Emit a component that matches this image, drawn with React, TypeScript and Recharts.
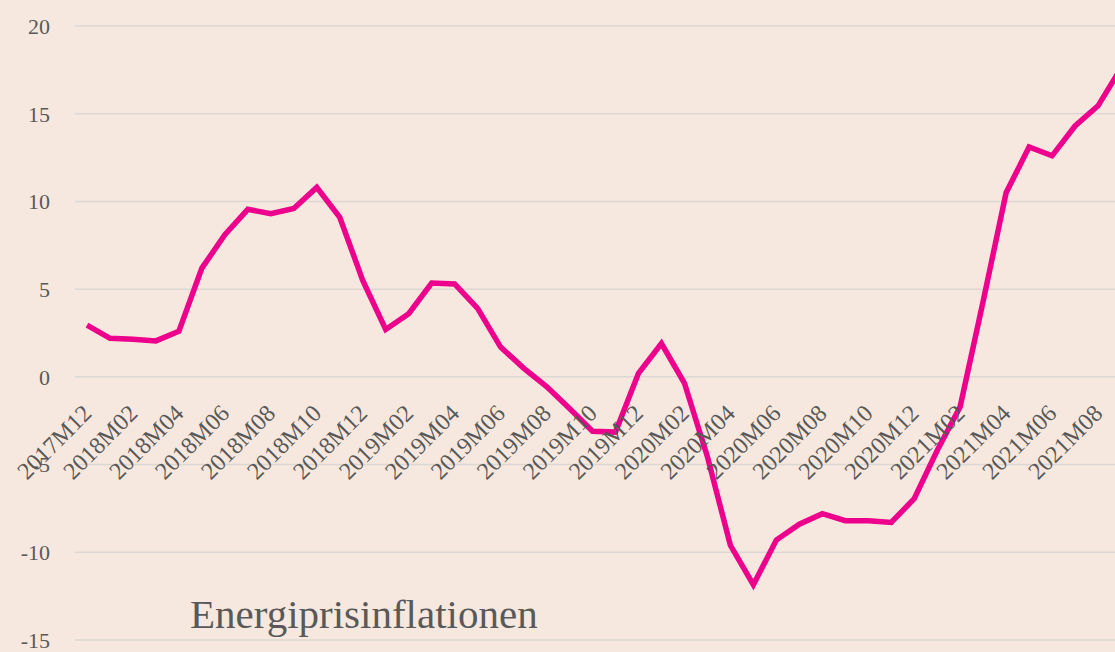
import { LineChart, Line, XAxis, YAxis, CartesianGrid } from 'recharts'

const months = [
  '2017M12',
  '2018M01', '2018M02', '2018M03', '2018M04', '2018M05', '2018M06',
  '2018M07', '2018M08', '2018M09', '2018M10', '2018M11', '2018M12',
  '2019M01', '2019M02', '2019M03', '2019M04', '2019M05', '2019M06',
  '2019M07', '2019M08', '2019M09', '2019M10', '2019M11', '2019M12',
  '2020M01', '2020M02', '2020M03', '2020M04', '2020M05', '2020M06',
  '2020M07', '2020M08', '2020M09', '2020M10', '2020M11', '2020M12',
  '2021M01', '2021M02', '2021M03', '2021M04', '2021M05', '2021M06',
  '2021M07', '2021M08', '2021M09',
]

// energiprisinflation, procent
const energyInflation = [
  2.95,
  2.2, 2.15, 2.05, 2.6, 6.2, 8.1,
  9.55, 9.3, 9.6, 10.8, 9.1, 5.5,
  2.7, 3.6, 5.35, 5.3, 3.9, 1.7,
  0.5, -0.55, -1.8, -3.1, -3.15, 0.2,
  1.9, -0.35, -4.55, -9.6, -11.85, -9.3,
  -8.4, -7.8, -8.2, -8.2, -8.3, -6.95,
  -4.2, -1.7, 4.3, 10.5, 13.1, 12.6,
  14.3, 15.45, 17.6,
]

const yTicks = [-15, -10, -5, 0, 5, 10, 15, 20]

const data = months.map((m, i) => ({ month: m, value: energyInflation[i] }))

const BG = '#F6E8DE'
const INK = '#595959'
const PINK = '#EC008C'
const GRID = '#DCD7D3'
const FONT = '"Liberation Serif", "Times New Roman", serif'

const W = 1145
const H = 652
const TOP = 26
const X_AXIS_H = 12
const Y_MIN = -15
const Y_MAX = 20
// y-pixel of the zero line, the x labels hang from it
const ZERO_Y = TOP + ((H - TOP - X_AXIS_H) * Y_MAX) / (Y_MAX - Y_MIN)

function MonthTick(props: any) {
  const { x, payload } = props
  const ax = x + 6
  const ay = ZERO_Y + 38
  return (
    <text
      x={ax}
      y={ay}
      transform={`rotate(-45, ${ax}, ${ay})`}
      textAnchor="end"
      fill={INK}
      fontSize={24}
      fontFamily={FONT}
    >
      {payload.value}
    </text>
  )
}

export default function App() {
  return (
    <div
      style={{
        position: 'absolute',
        left: 0,
        top: 0,
        width: 1115,
        height: H,
        overflow: 'hidden',
        background: BG,
      }}
    >
      <LineChart width={W} height={H} data={data} margin={{ top: TOP, right: 12, bottom: 0, left: 0 }}>
        <CartesianGrid vertical={false} stroke={GRID} strokeWidth={1.5} />
        <XAxis
          dataKey="month"
          interval={1}
          height={X_AXIS_H}
          axisLine={false}
          tickLine={false}
          padding={{ left: 12, right: 12 }}
          tick={MonthTick}
        />
        <YAxis
          domain={[Y_MIN, Y_MAX]}
          ticks={yTicks}
          interval={0}
          width={75}
          axisLine={false}
          tickLine={false}
          tickMargin={19}
          tick={{ fill: INK, fontSize: 22, fontFamily: FONT }}
        />
        <Line
          type="linear"
          dataKey="value"
          stroke={PINK}
          strokeWidth={5.5}
          dot={false}
          isAnimationActive={false}
        />
      </LineChart>
      <svg width={1115} height={H} style={{ position: 'absolute', left: 0, top: 0, pointerEvents: 'none' }}>
        <text x={190} y={628} fill={INK} fontSize={41} fontFamily={FONT}>
          Energiprisinflationen
        </text>
      </svg>
    </div>
  )
}
